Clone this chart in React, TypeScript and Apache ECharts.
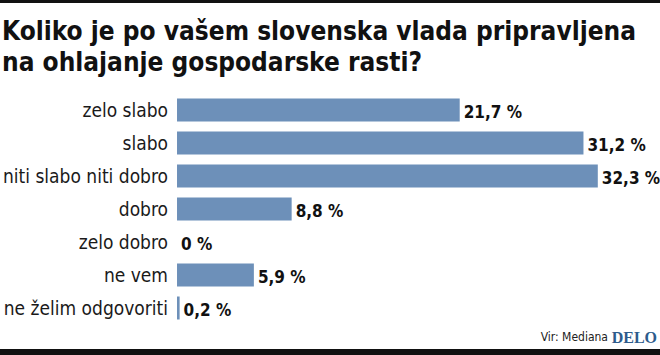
import React, { useEffect, useRef } from "react";
import * as echarts from "echarts";

const categories = [
  "zelo slabo",
  "slabo",
  "niti slabo niti dobro",
  "dobro",
  "zelo dobro",
  "ne vem",
  "ne želim odgovoriti",
];
const values = [21.7, 31.2, 32.3, 8.8, 0, 5.9, 0.2];
const titleLines = [
  "Koliko je po vašem slovenska vlada pripravljena",
  "na ohlajanje gospodarske rasti?",
];
const sourceText = "Vir: Mediana";
const brandText = "DELO";

const FONT = "'DejaVu Sans Condensed', sans-serif";

export default function App() {
  const ref = useRef<HTMLDivElement>(null);
  useEffect(() => {
    if (!ref.current) return;
    const chart = echarts.init(ref.current, undefined, { renderer: "svg" });
    chart.setOption({
      animation: false,
      backgroundColor: "#ffffff",
      grid: { left: 177, right: 14, top: 93.5, bottom: 30.5, containLabel: false },
      xAxis: {
        type: "value",
        min: 0,
        max: 36,
        show: false,
      },
      yAxis: {
        type: "category",
        data: categories,
        inverse: true,
        axisLine: { show: false },
        axisTick: { show: false },
        splitLine: { show: false },
        axisLabel: {
          margin: 9,
          fontFamily: FONT,
          fontSize: 19,
          color: "#1a1a1a",
        },
      },
      series: [
        {
          type: "bar",
          data: values,
          barWidth: 23,
          itemStyle: { color: "#6d90b9" },
          label: {
            show: true,
            position: "right",
            distance: 4,
            offset: [0, 2],
            fontFamily: FONT,
            fontWeight: "bold",
            fontSize: 17,
            color: "#111",
            formatter: (p: any) => String(p.value).replace(".", ",") + " %",
          },
        },
      ],
      graphic: [
        { type: "rect", shape: { x: 0, y: 0, width: 660, height: 3 }, style: { fill: "#111" } },
        { type: "rect", shape: { x: 0, y: 349, width: 660, height: 6 }, style: { fill: "#111" } },
        {
          type: "text",
          x: 2,
          y: 31,
          style: {
            text: titleLines[0],
            fontFamily: FONT,
            fontWeight: "bold",
            fontSize: 26,
            fill: "#111",
            verticalAlign: "middle",
          },
        },
        {
          type: "text",
          x: 2,
          y: 62,
          style: {
            text: titleLines[1],
            fontFamily: FONT,
            fontWeight: "bold",
            fontSize: 26,
            fill: "#111",
            verticalAlign: "middle",
          },
        },
        {
          type: "text",
          x: 608,
          y: 337,
          style: {
            text: sourceText,
            fontFamily: FONT,
            fontSize: 12,
            fill: "#222",
            align: "right",
            verticalAlign: "middle",
          },
        },
        {
          type: "text",
          x: 657,
          y: 337,
          style: {
            text: brandText,
            fontFamily: "'Liberation Serif', 'DejaVu Serif', serif",
            fontWeight: "bold",
            fontSize: 16,
            fill: "#2d5b8c",
            align: "right",
            verticalAlign: "middle",
          },
        },
      ],
    });
    return () => chart.dispose();
  }, []);
  return <div ref={ref} style={{ width: 660, height: 355, position: "absolute", left: 0, top: 0 }} />;
}
